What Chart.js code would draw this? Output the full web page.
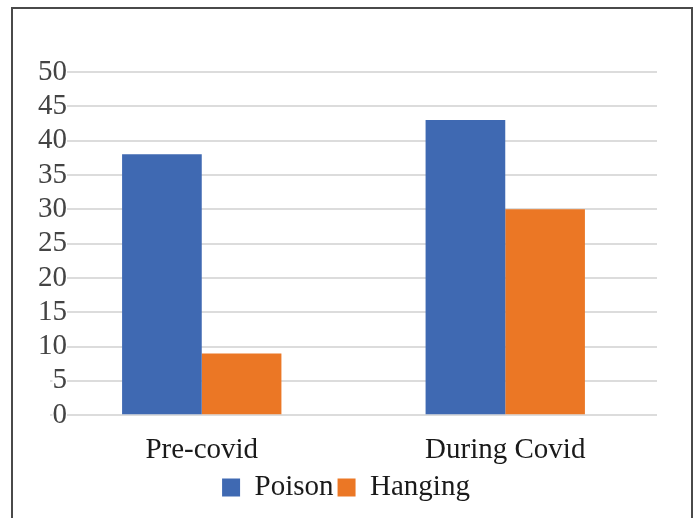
<!DOCTYPE html>
<html>
<head>
<meta charset="utf-8">
<script src="https://cdn.jsdelivr.net/npm/chart.js@4.4.1/dist/chart.umd.min.js"></script>
<style>
    body { margin: 0; background: #fff; }
    #frame { position: absolute; left: 11px; top: 7px; width: 678px; height: 540px; border: 2px solid #4a4a4a; }
    #wrap { position: absolute; left: 0; top: 0; width: 698px; height: 518px; }
</style>
</head>
<body>
<div id="frame"></div>
<div id="wrap"><canvas id="chart" width="698" height="518"></canvas></div>
<script>
var categories = ['Pre-covid', 'During Covid'];
var poison = [38, 43];
var hanging = [9, 30];
var yTicks = [0, 5, 10, 15, 20, 25, 30, 35, 40, 45, 50];

var serif = "'Liberation Serif', 'Times New Roman', serif";

var ctx = document.getElementById('chart').getContext('2d');
new Chart(ctx, {
    type: 'bar',
    data: {
        labels: categories,
        datasets: [{
            label: 'Poison',
            data: poison,
            backgroundColor: '#3F69B2',
            categoryPercentage: 0.525,
            barPercentage: 1.0
        }, {
            label: 'Hanging',
            data: hanging,
            backgroundColor: '#EB7725',
            categoryPercentage: 0.525,
            barPercentage: 1.0
        }]
    },
    options: {
        responsive: false,
        animation: false,
        layout: {
            padding: { left: 35, right: 41, top: 72, bottom: 6 }
        },
        plugins: {
            legend: {
                position: 'bottom',
                labels: {
                    color: '#1a1a1a',
                    font: { family: serif, size: 29 },
                    boxWidth: 18,
                    boxHeight: 18,
                    padding: 4
                }
            },
            tooltip: { enabled: false }
        },
        scales: {
            x: {
                afterFit: function (scale) { scale.height -= 9; },
                grid: { display: false },
                border: { display: false },
                ticks: {
                    color: '#1a1a1a',
                    font: { family: serif, size: 29 },
                    padding: 10
                }
            },
            y: {
                min: 0,
                max: 50,
                afterFit: function (scale) { scale.width = 15; },
                afterBuildTicks: function (scale) {
                    scale.ticks = yTicks.map(function (v) { return { value: v }; });
                },
                grid: { color: '#dcdcdc', lineWidth: 2, drawTicks: false },
                border: { display: false },
                ticks: {
                    color: '#444',
                    font: { family: serif, size: 29 },
                    autoSkip: false,
                    mirror: true,
                    crossAlign: 'far',
                    padding: -12,
                    showLabelBackdrop: true,
                    backdropColor: '#fff',
                    backdropPadding: 0
                }
            }
        }
    }
});
</script>
</body>
</html>
